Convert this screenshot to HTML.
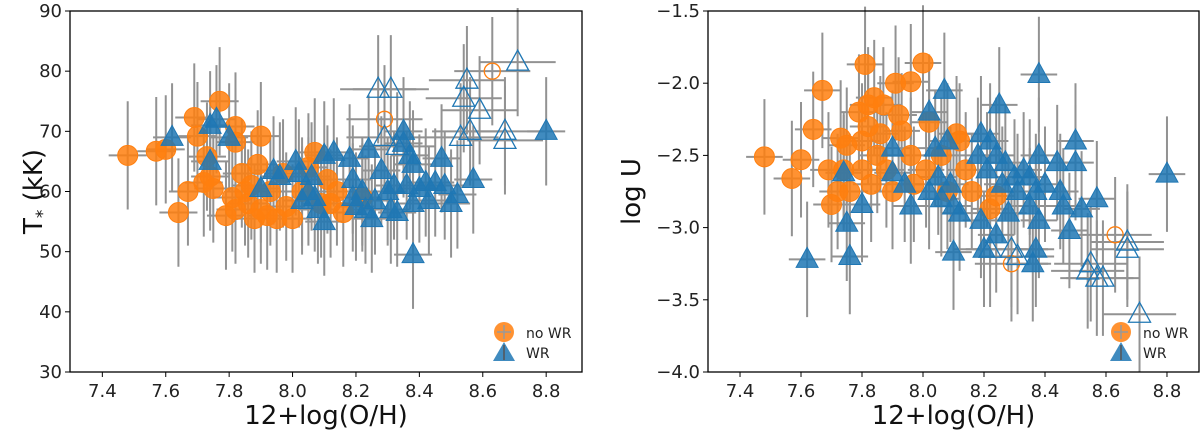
<!DOCTYPE html>
<html><head><meta charset="utf-8"><style>
body{margin:0;background:#fff;}
svg{display:block;font-family:"DejaVu Sans","Liberation Sans",sans-serif;}
</style></head><body>
<svg id="fig" width="1200" height="435" viewBox="0 0 1200 435"></svg>
<script>
// ---- data: left panel (T* vs O/H) ----
const noWR_T_x=[7.48,7.57,7.60,7.64,7.67,7.69,7.70,7.73,7.72,7.74,7.75,7.77,7.79,7.81,7.82,7.82,7.82,7.84,7.85,7.86,7.87,7.88,7.89,7.90,7.90,7.92,7.93,7.95,7.97,7.98,8.00,8.03,8.05,8.07,8.09,8.11,8.12,8.14,8.16,8.22];
const noWR_T_y=[66,66.7,67,56.5,60,72.3,69.2,65.8,61.5,62.5,60.5,75,56,59,70.8,68.2,57,63,60,58,61,55.5,64.5,69.2,57,56,60,55.5,63,57.5,55.5,60,64,66.5,58,62,58,60,56.5,59];
const noWRopen_T_x=[8.29,8.63];
const noWRopen_T_y=[72,80];
const WR_T_x=[7.62,7.74,7.76,7.80,7.74,7.90,7.94,7.96,8.01,8.02,8.03,8.05,8.06,8.07,8.08,8.10,8.10,8.13,8.18,8.19,8.19,8.20,8.22,8.24,8.23,8.25,8.26,8.28,8.30,8.31,8.32,8.33,8.35,8.35,8.37,8.38,8.36,8.38,8.40,8.42,8.43,8.45,8.47,8.48,8.50,8.52,8.57,8.38,8.80];
const WR_T_y=[69,71,72,69,65,60.5,63.5,62.5,65,63,58.5,60,62.5,59,57,55,66,66.5,65.5,62,59,57.5,60,67,57,55.5,58.5,63.5,60,57,61,56.5,70,68,66,64.5,61,58,60.5,61.5,58.5,61.5,65.5,61,58,59.5,62,49.5,70];
const WRopen_T_x=[8.27,8.31,8.55,8.54,8.59,8.53,8.56,8.67,8.67,8.71,8.29,8.33];
const WRopen_T_y=[77,77,78.5,75.5,73.5,69,70,70,68.5,81.5,69,67.5];
// ---- data: right panel (log U vs O/H) ----
const noWR_U_x=[7.48,7.57,7.60,7.64,7.67,7.69,7.70,7.72,7.73,7.74,7.75,7.76,7.79,7.80,7.80,7.81,7.82,7.82,7.83,7.84,7.85,7.86,7.87,7.88,7.90,7.91,7.92,7.93,7.96,7.96,7.97,8.00,8.01,8.02,8.06,8.08,8.11,8.12,8.14,8.16,8.22,8.24];
const noWR_U_y=[-2.51,-2.66,-2.53,-2.32,-2.05,-2.6,-2.84,-2.75,-2.38,-2.6,-2.43,-2.75,-2.2,-2.4,-2.6,-1.87,-2.3,-2.15,-2.7,-2.1,-2.5,-2.35,-2.15,-2.6,-2.75,-2.0,-2.22,-2.33,-1.99,-2.5,-2.7,-1.86,-2.6,-2.27,-2.5,-2.75,-2.35,-2.4,-2.6,-2.75,-2.87,-2.78];
const noWRopen_U_x=[8.29,8.63];
const noWRopen_U_y=[-3.25,-3.05];
const WR_U_x=[7.62,7.74,7.75,7.76,7.80,7.90,7.90,7.94,7.96,8.02,8.02,8.04,8.05,8.06,8.07,8.08,8.09,8.10,8.10,8.12,8.18,8.19,8.19,8.20,8.21,8.22,8.24,8.24,8.25,8.26,8.27,8.28,8.30,8.31,8.33,8.35,8.35,8.36,8.37,8.37,8.38,8.38,8.38,8.40,8.44,8.45,8.46,8.48,8.50,8.50,8.52,8.57,8.80];
const WR_U_y=[-3.22,-2.62,-2.97,-3.2,-2.84,-2.45,-2.62,-2.7,-2.85,-2.2,-2.75,-2.45,-2.65,-2.8,-2.05,-2.4,-2.7,-2.85,-3.17,-2.9,-2.5,-2.35,-2.95,-3.15,-2.6,-2.4,-2.5,-3.05,-2.15,-2.7,-2.55,-2.9,-2.65,-2.75,-2.6,-2.65,-2.85,-3.25,-2.75,-3.15,-1.94,-2.5,-2.95,-2.7,-2.55,-2.75,-2.85,-3.02,-2.4,-2.55,-2.87,-2.8,-2.63];
const WRopen_U_x=[8.29,8.31,8.22,8.54,8.55,8.57,8.59,8.67,8.67,8.71];
const WRopen_U_y=[-3.15,-3.2,-3.15,-3.3,-3.25,-3.35,-3.35,-3.1,-3.15,-3.6];
const xTicks=[7.4,7.6,7.8,8.0,8.2,8.4,8.6,8.8];
const tTicks=[30,40,50,60,70,80,90];
const uTicks=[-4.0,-3.5,-3.0,-2.5,-2.0,-1.5];
const errT=9, errU=0.4, errX=0.06;

const NS='http://www.w3.org/2000/svg';
const svg=document.getElementById('fig');
function mk(tag,attrs,parent){const e=document.createElementNS(NS,tag);for(const k in attrs)e.setAttribute(k,attrs[k]);(parent||svg).appendChild(e);return e;}
const ORANGE='#ff7f0e', BLUE='#1f77b4';

function panel(p){
  const g=mk('g',{});
  
  
  const X=v=>p.x0+(v-p.xmin)/(p.xmax-p.xmin)*(p.x1-p.x0);
  const Y=v=>p.y1-(v-p.ymin)/(p.ymax-p.ymin)*(p.y1-p.y0);
  const eb=mk('g',{stroke:'#7f7f7f','stroke-width':2,opacity:0.85},g);
  
  
  p.series.forEach(s=>{s.x.forEach((xv,i)=>{const yv=s.y[i];
    mk('line',{x1:X(xv),x2:X(xv),y1:Y(yv-p.ey),y2:Y(yv+p.ey)},eb);
    mk('line',{x1:X(xv-errX*(s.open?2:1)),x2:X(xv+errX*(s.open?2:1)),y1:Y(yv),y2:Y(yv)},eb);
  });});
  p.series.forEach(s=>{
    const sg=mk('g',{},g);
    
    
    s.x.forEach((xv,i)=>{const cx=X(xv),cy=Y(s.y[i]);let m;
      const fill=s.open?'none':s.col, fo=s.open?0:0.85;
      if(s.shape==='c') m=mk('circle',{cx:cx,cy:cy,r:s.open?8:10,fill:fill,'fill-opacity':fo,stroke:s.col,'stroke-width':s.open?1.3:1},sg);
      else m=mk('polygon',{points:`${cx},${cy-12} ${cx-11},${cy+8} ${cx+11},${cy+8}`,fill:fill,'fill-opacity':fo,stroke:s.col,'stroke-width':s.open?1.3:1},sg);
      
      
    });
  });
  const fr=mk('rect',{x:p.x0,y:p.y0,width:p.x1-p.x0,height:p.y1-p.y0,fill:'none',stroke:'#000','stroke-width':1.3},g);
  
  
  xTicks.forEach(t=>{const x=X(t);mk('line',{x1:x,x2:x,y1:p.y1,y2:p.y1+5,stroke:'#000'},g);
    const tx=mk('text',{x:x,y:p.y1+25,'text-anchor':'middle','font-size':18,fill:'#222'},g);tx.textContent=t.toFixed(1);
    
    });
  p.yt.forEach(t=>{const y=Y(t);mk('line',{x1:p.x0-5,x2:p.x0,y1:y,y2:y,stroke:'#000'},g);
    const tx=mk('text',{x:p.x0-8,y:y+6,'text-anchor':'end','font-size':18,fill:'#222'},g);tx.textContent=p.fmt(t);
    
    });
  const xl=mk('text',{x:(p.x0+p.x1)/2,y:424,'text-anchor':'middle','font-size':26,fill:'#111'},g);xl.textContent='12+log(O/H)';
  
  
  const yl=mk('text',{x:0,y:0,'text-anchor':'middle','font-size':26,fill:'#111',transform:`translate(${p.ylx},${(p.y0+p.y1)/2}) rotate(-90)`},g);yl.innerHTML=p.ylab;
  
  
  const lg=mk('g',{},g);
  
  
  const lx=p.x1-78;
  mk('circle',{cx:lx,cy:332,r:10,fill:ORANGE,'fill-opacity':0.85},lg);
  mk('line',{x1:lx,x2:lx,y1:325,y2:339,stroke:'#999','stroke-width':1.5},lg);
  mk('line',{x1:lx-7,x2:lx+7,y1:332,y2:332,stroke:'#999','stroke-width':1.5},lg);
  const t1=mk('text',{x:lx+22,y:338,'font-size':14,fill:'#222'},lg);t1.textContent='no WR';
  
  
  mk('polygon',{points:`${lx},${342} ${lx-11},${361} ${lx+11},${361}`,fill:BLUE,'fill-opacity':0.85},lg);
  mk('line',{x1:lx,x2:lx,y1:345,y2:360,stroke:'#555','stroke-width':1.5},lg);
  const t2=mk('text',{x:lx+22,y:358,'font-size':14,fill:'#222'},lg);t2.textContent='WR';
  
  
}
panel({name:'left-panel-tstar',x0:70,x1:582,y0:11,y1:372,xmin:7.298,xmax:8.913,ymin:30,ymax:90,yt:tTicks,fmt:t=>String(t),ey:errT,ylx:42,
  ylab:'T<tspan font-size="17" dy="6">*</tspan><tspan dy="-6"> (kK)</tspan>',
  series:[{x:noWR_T_x,y:noWR_T_y,shape:'c',col:ORANGE,label:'no-wr-series'},{x:noWRopen_T_x,y:noWRopen_T_y,shape:'c',col:ORANGE,open:true,label:'no-wr-open-series'},
          {x:WR_T_x,y:WR_T_y,shape:'t',col:BLUE,label:'wr-series'},{x:WRopen_T_x,y:WRopen_T_y,shape:'t',col:BLUE,open:true,label:'wr-open-series'}]});
panel({name:'right-panel-logu',x0:708,x1:1199,y0:11,y1:372,xmin:7.295,xmax:8.905,ymin:-4,ymax:-1.5,yt:uTicks,fmt:t=>'\u2212'+Math.abs(t).toFixed(1),ey:errU,ylx:640,
  ylab:'log U',
  series:[{x:noWR_U_x,y:noWR_U_y,shape:'c',col:ORANGE,label:'no-wr-series'},{x:noWRopen_U_x,y:noWRopen_U_y,shape:'c',col:ORANGE,open:true,label:'no-wr-open-series'},
          {x:WR_U_x,y:WR_U_y,shape:'t',col:BLUE,label:'wr-series'},{x:WRopen_U_x,y:WRopen_U_y,shape:'t',col:BLUE,open:true,label:'wr-open-series'}]});
</script>
</body></html>
